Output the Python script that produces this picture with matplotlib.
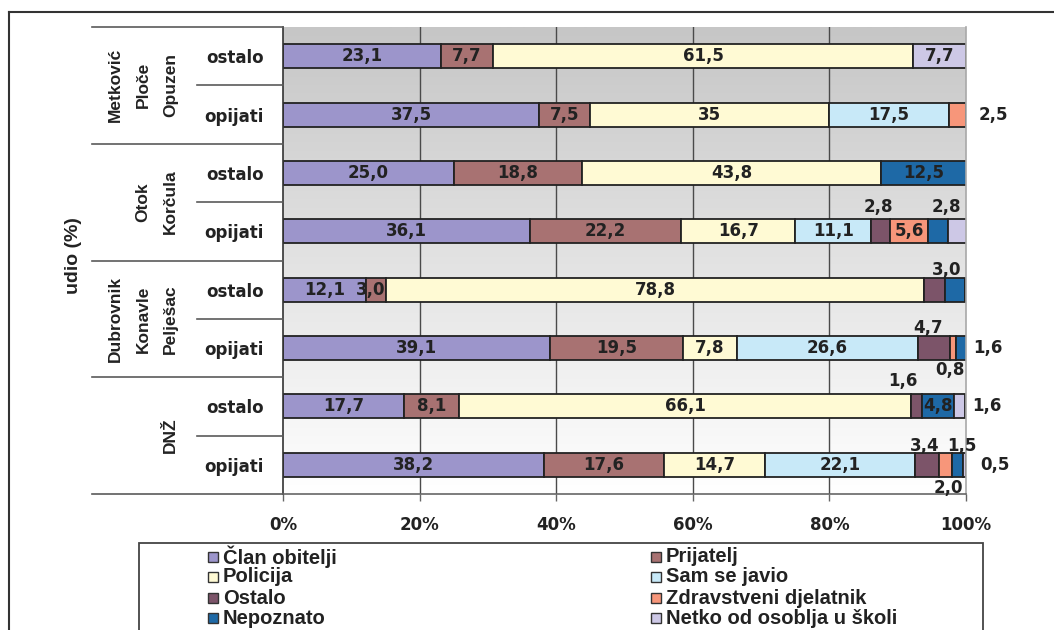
import numpy as np
import matplotlib
matplotlib.use("Agg")
import matplotlib.pyplot as plt
from matplotlib.patches import Rectangle
from matplotlib.lines import Line2D
from matplotlib.transforms import blended_transform_factory
from matplotlib.colors import LinearSegmentedColormap

# ---- data -------------------------------------------------------------
groups = ["Metković\nPloče\nOpuzen", "Otok\nKorčula", "Dubrovnik\nKonavle\nPelješac", "DNŽ"]
subgroups = ["ostalo", "opijati"]
x_ticks = [0, 20, 40, 60, 80, 100]
x_tick_labels = ["0%", "20%", "40%", "60%", "80%", "100%"]
y_axis_title = "udio (%)"

series_names = ["Član obitelji", "Prijatelj", "Policija", "Sam se javio",
                "Ostalo", "Zdravstveni djelatnik", "Nepoznato", "Netko od osoblja u školi"]

# rows from top: each group -> ostalo, opijati
clan_obitelji = [23.1, 37.5, 25.0, 36.1, 12.1, 39.1, 17.7, 38.2]
prijatelj     = [7.7, 7.5, 18.8, 22.2, 3.0, 19.5, 8.1, 17.6]
policija      = [61.5, 35, 43.8, 16.7, 78.8, 7.8, 66.1, 14.7]
sam_se_javio  = [0, 17.5, 0, 11.1, 0, 26.6, 0, 22.1]
ostalo        = [0, 0, 0, 2.8, 3.0, 4.7, 1.6, 3.4]
zdravstveni   = [0, 2.5, 0, 5.6, 0, 0.8, 0, 2.0]
nepoznato     = [0, 0, 12.5, 2.8, 3.0, 1.6, 4.8, 1.5]
netko_skola   = [7.7, 0, 0, 2.8, 0, 0, 1.6, 0.5]

series_values = [clan_obitelji, prijatelj, policija, sam_se_javio,
                 ostalo, zdravstveni, nepoznato, netko_skola]
colors = ["#9C95CB", "#A87272", "#FFFAD4", "#C8E9F8",
          "#7C5469", "#F7967A", "#1E69A6", "#CDC8E6"]

# labels of narrow segments moved off the bar: (row, series) -> (x %, row offset)
moved_labels = {
    (1, 5): (104.0, 0.0),
    (3, 4): (87.1, -0.42), (3, 7): (97.1, -0.42),
    (4, 1): (12.9, 0.0), (4, 6): (97.1, -0.34),
    (5, 4): (94.4, -0.35), (5, 5): (97.7, 0.38), (5, 6): (103.2, 0.0),
    (6, 4): (90.8, -0.43), (6, 7): (103.1, 0.0),
    (7, 4): (93.9, -0.33), (7, 5): (97.4, 0.39), (7, 6): (99.4, -0.33), (7, 7): (104.2, 0.0),
}
hidden_labels = {(3, 6), (4, 4)}

# ---- figure -----------------------------------------------------------
W, H = 1054, 630
fig = plt.figure(figsize=(W / 100, H / 100), dpi=100)
fig.patch.set_facecolor("white")
ARIAL = ["Liberation Sans", "DejaVu Sans"]
WIDE = ["DejaVu Sans"]
INK = "#222222"


def fx(px):
    return px / W


def fy(py):
    return 1 - py / H


ax_left, ax_right, ax_top, ax_bottom = 283, 966, 27, 494
ax = fig.add_axes([fx(ax_left), fy(ax_bottom), (ax_right - ax_left) / W, (ax_bottom - ax_top) / H])

n_rows = len(clan_obitelji)
ax.set_xlim(0, 100)
ax.set_ylim(n_rows - 0.5, -0.5)

# grey-to-white background
bg = LinearSegmentedColormap.from_list("bg", ["#C6C6C6", "#FFFFFF"])
ax.imshow(np.linspace(0, 1, 256).reshape(-1, 1), cmap=bg, aspect="auto",
          extent=[0, 100, n_rows - 0.5, -0.5], zorder=0)

for gx in x_ticks[1:-1]:
    ax.axvline(gx, color="#4A4A4A", lw=1.0, zorder=1)

rows = np.arange(n_rows)
left = np.zeros(n_rows)
bar_h = 0.41


def fmt(v):
    if isinstance(v, int):
        return str(v)
    return f"{v:.1f}".replace(".", ",")


for s, (name, vals, col) in enumerate(zip(series_names, series_values, colors)):
    vals = np.array(vals, dtype=float)
    ax.barh(rows, vals, left=left, height=bar_h, color=col, edgecolor="#222222",
            linewidth=1.3, label=name, zorder=2)
    for r in rows:
        v = series_values[s][r]
        if v == 0 or (r, s) in hidden_labels:
            continue
        if (r, s) in moved_labels:
            tx, dy = moved_labels[(r, s)]
            ty = r + dy
        else:
            tx, ty = left[r] + v / 2, r
        ax.text(tx, ty, fmt(v), ha="center", va="center", fontsize=12,
                fontweight="bold", family=WIDE, color=INK, zorder=4, clip_on=False)
    left += vals

# axes styling
ax.spines["top"].set_visible(False)
ax.spines["right"].set_color("#A8A8A8")
ax.spines["right"].set_linewidth(1.2)
ax.spines["left"].set_color("#333333")
ax.spines["left"].set_linewidth(1.2)
ax.spines["bottom"].set_color("#666666")
ax.spines["bottom"].set_linewidth(1.2)

ax.set_xticks(x_ticks)
ax.set_xticklabels(x_tick_labels, fontsize=12, fontweight="bold", family=WIDE, color=INK)
ax.tick_params(axis="x", length=5, width=1.0, color="#666666", pad=11)
ax.set_yticks(rows)
ax.set_yticklabels(subgroups * len(groups), fontsize=12, fontweight="bold",
                   family=WIDE, color=INK)
ax.tick_params(axis="y", length=0, pad=14)

# category separators and group names on the left
tr = blended_transform_factory(fig.transFigure, ax.transData)
for g in range(len(groups) + 1):
    y = g * 2 - 0.5
    fig.add_artist(Line2D([fx(92), fx(ax_left)], [y, y], transform=tr,
                          color="#5A5A5A", lw=1.2))
for g in range(len(groups)):
    y = g * 2 + 0.5
    fig.add_artist(Line2D([fx(197), fx(ax_left)], [y, y], transform=tr,
                          color="#5A5A5A", lw=1.2))
    fig.text(fx(178), g * 2 + 0.5, groups[g], transform=tr, rotation=90,
             rotation_mode="anchor", ha="center", va="bottom", multialignment="center",
             fontsize=12.5, fontweight="bold", family=ARIAL, color=INK,
             linespacing=2.05)

fig.text(fx(74), fy(256), y_axis_title, rotation=90, ha="center", va="center",
         fontsize=14, fontweight="bold", family=ARIAL, color=INK)

# outer frame (open to the right and bottom)
fig.add_artist(Line2D([fx(9), fx(W)], [fy(12), fy(12)], color="#333333", lw=1.5))
fig.add_artist(Line2D([fx(9), fx(9)], [fy(12), fy(H)], color="#333333", lw=1.5))

# legend box
fig.add_artist(Rectangle((fx(139), fy(650)), fx(983) - fx(139), fy(543) - fy(650),
                         transform=fig.transFigure, fill=False, edgecolor="#444444", lw=1.3))

legend_rows = [557, 577, 598, 618]
col_marker_x = [208, 651]
order = [[0, 2, 4, 6], [1, 3, 5, 7]]
for c, idxs in enumerate(order):
    for r, s in enumerate(idxs):
        y = legend_rows[r]
        fig.add_artist(Rectangle((fx(col_marker_x[c]), fy(y + 5)), 10 / W, 10 / H,
                                 transform=fig.transFigure, facecolor=colors[s],
                                 edgecolor="#333333", lw=1.0))
        fig.text(fx(col_marker_x[c] + 15), fy(y), series_names[s], ha="left", va="center",
                 fontsize=14.5, fontweight="bold", family=ARIAL, color=INK)

fig.savefig("out.png", dpi=100)
